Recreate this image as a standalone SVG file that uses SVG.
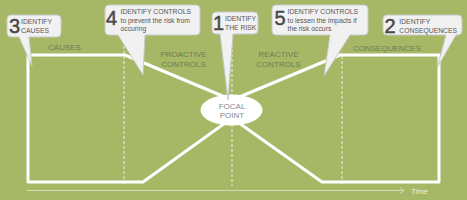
<svg xmlns="http://www.w3.org/2000/svg" width="467" height="200" viewBox="0 0 467 200">
<style>
.bg{fill:#a6b866}
.flow{fill:none;stroke:#ffffff;stroke-width:3;stroke-linejoin:round;stroke-linecap:butt}
.dash{stroke:#eef1e2;stroke-width:1;stroke-dasharray:3 2;fill:none}
.axis{stroke:#d3dab8;stroke-width:1;fill:none}
.sec{font-family:"Liberation Sans",Arial,sans-serif;font-size:8px;fill:#6e7c55;text-anchor:middle}
.call{fill:#f1f1f1;stroke:#c9c9c9;stroke-width:1}
.num{font-family:"Liberation Sans",Arial,sans-serif;font-size:20px;fill:#484848;stroke:#484848;stroke-width:0.5}
.ct{font-family:"Liberation Sans",Arial,sans-serif;font-size:6.8px;fill:#555555}
.focal{fill:#ffffff}
.ft{font-family:"Liberation Sans",Arial,sans-serif;font-size:8px;fill:#8a8a8a;text-anchor:middle}
.time{font-family:"Liberation Sans",Arial,sans-serif;font-size:7.5px;font-style:italic;fill:#eef2e0}
</style>
<rect class="bg" x="0" y="0" width="467" height="200"/>
<g id="connectors">
<line class="dash" x1="124" y1="36" x2="124" y2="186"/>
<line class="dash" x1="232" y1="34" x2="232" y2="186"/>
<line class="dash" x1="342" y1="56" x2="342" y2="186"/>
<path class="flow" d="M232,118 L143,182 H28 V55 H125 L232,100"/>
<path class="flow" d="M232,118 L322,182 H439 V55 H340 L232,100"/>
<line class="axis" x1="27" y1="190.5" x2="404" y2="190.5"/>
<path class="axis" d="M400,187.5 L404,190.5 L400,193.5"/>
<text class="time" x="411" y="193.5">Time</text>
</g>
<g id="labels">
<text class="sec" x="64.5" y="50">CAUSES</text>
<text class="sec" x="183.5" y="56.5">PROACTIVE</text>
<text class="sec" x="183.5" y="66.5">CONTROLS</text>
<text class="sec" x="278.5" y="56.5">REACTIVE</text>
<text class="sec" x="278.5" y="66.5">CONTROLS</text>
<text class="sec" x="387" y="51">CONSEQUENCES</text>
</g>
<g id="focal-point">
<ellipse class="focal" cx="231.5" cy="110" rx="31" ry="15.5"/>
<text class="ft" x="232" y="108.5">FOCAL</text>
<text class="ft" x="232" y="117.5">POINT</text>
</g>
<g id="callout-3">
<path class="call" d="M11,15 H57 Q61,15 61,19 V33 Q61,37 57,37 H29 L32,66 L19,37 H11 Q7,37 7,33 V19 Q7,15 11,15 Z"/>
<text class="num" x="9" y="33">3</text>
<text class="ct" x="21" y="24.3">IDENTIFY</text>
<text class="ct" x="21" y="33">CAUSES</text>
</g>
<g id="callout-4">
<path class="call" d="M109,5 H196 Q200,5 200,9 V31 Q200,35 196,35 H145 L143,75 L118,35 H109 Q105,35 105,31 V9 Q105,5 109,5 Z"/>
<text class="num" x="106" y="25">4</text>
<text class="ct" x="120.5" y="14.3">IDENTIFY CONTROLS</text>
<text class="ct" x="120.5" y="23">to prevent the risk from</text>
<text class="ct" x="120.5" y="31">occuring</text>
</g>
<g id="callout-1">
<path class="call" d="M216,12 H254 Q258,12 258,16 V30 Q258,34 254,34 H233 L228,100 L220,34 H216 Q212,34 212,30 V16 Q212,12 216,12 Z"/>
<text class="num" x="213" y="30">1</text>
<text class="ct" x="225" y="21">IDENTIFY</text>
<text class="ct" x="225" y="29.5">THE RISK</text>
</g>
<g id="callout-5">
<path class="call" d="M276,5 H364 Q368,5 368,9 V31 Q368,35 364,35 H350 L324,76 L330,35 H276 Q272,35 272,31 V9 Q272,5 276,5 Z"/>
<text class="num" x="274.5" y="24.5">5</text>
<text class="ct" x="287.5" y="14.3">IDENTIFY CONTROLS</text>
<text class="ct" x="287.5" y="22.8">to lessen the impacts if</text>
<text class="ct" x="287.5" y="31">the risk occurs</text>
</g>
<g id="callout-2">
<path class="call" d="M387,15 H458 Q462,15 462,19 V31 Q462,35 458,35 H456 L437,68 L446,35 H387 Q383,35 383,31 V19 Q383,15 387,15 Z"/>
<text class="num" x="384.5" y="33">2</text>
<text class="ct" x="399.3" y="24.3">IDENTIFY</text>
<text class="ct" x="399.3" y="32.7">CONSEQUENCES</text>
</g>
</svg>
